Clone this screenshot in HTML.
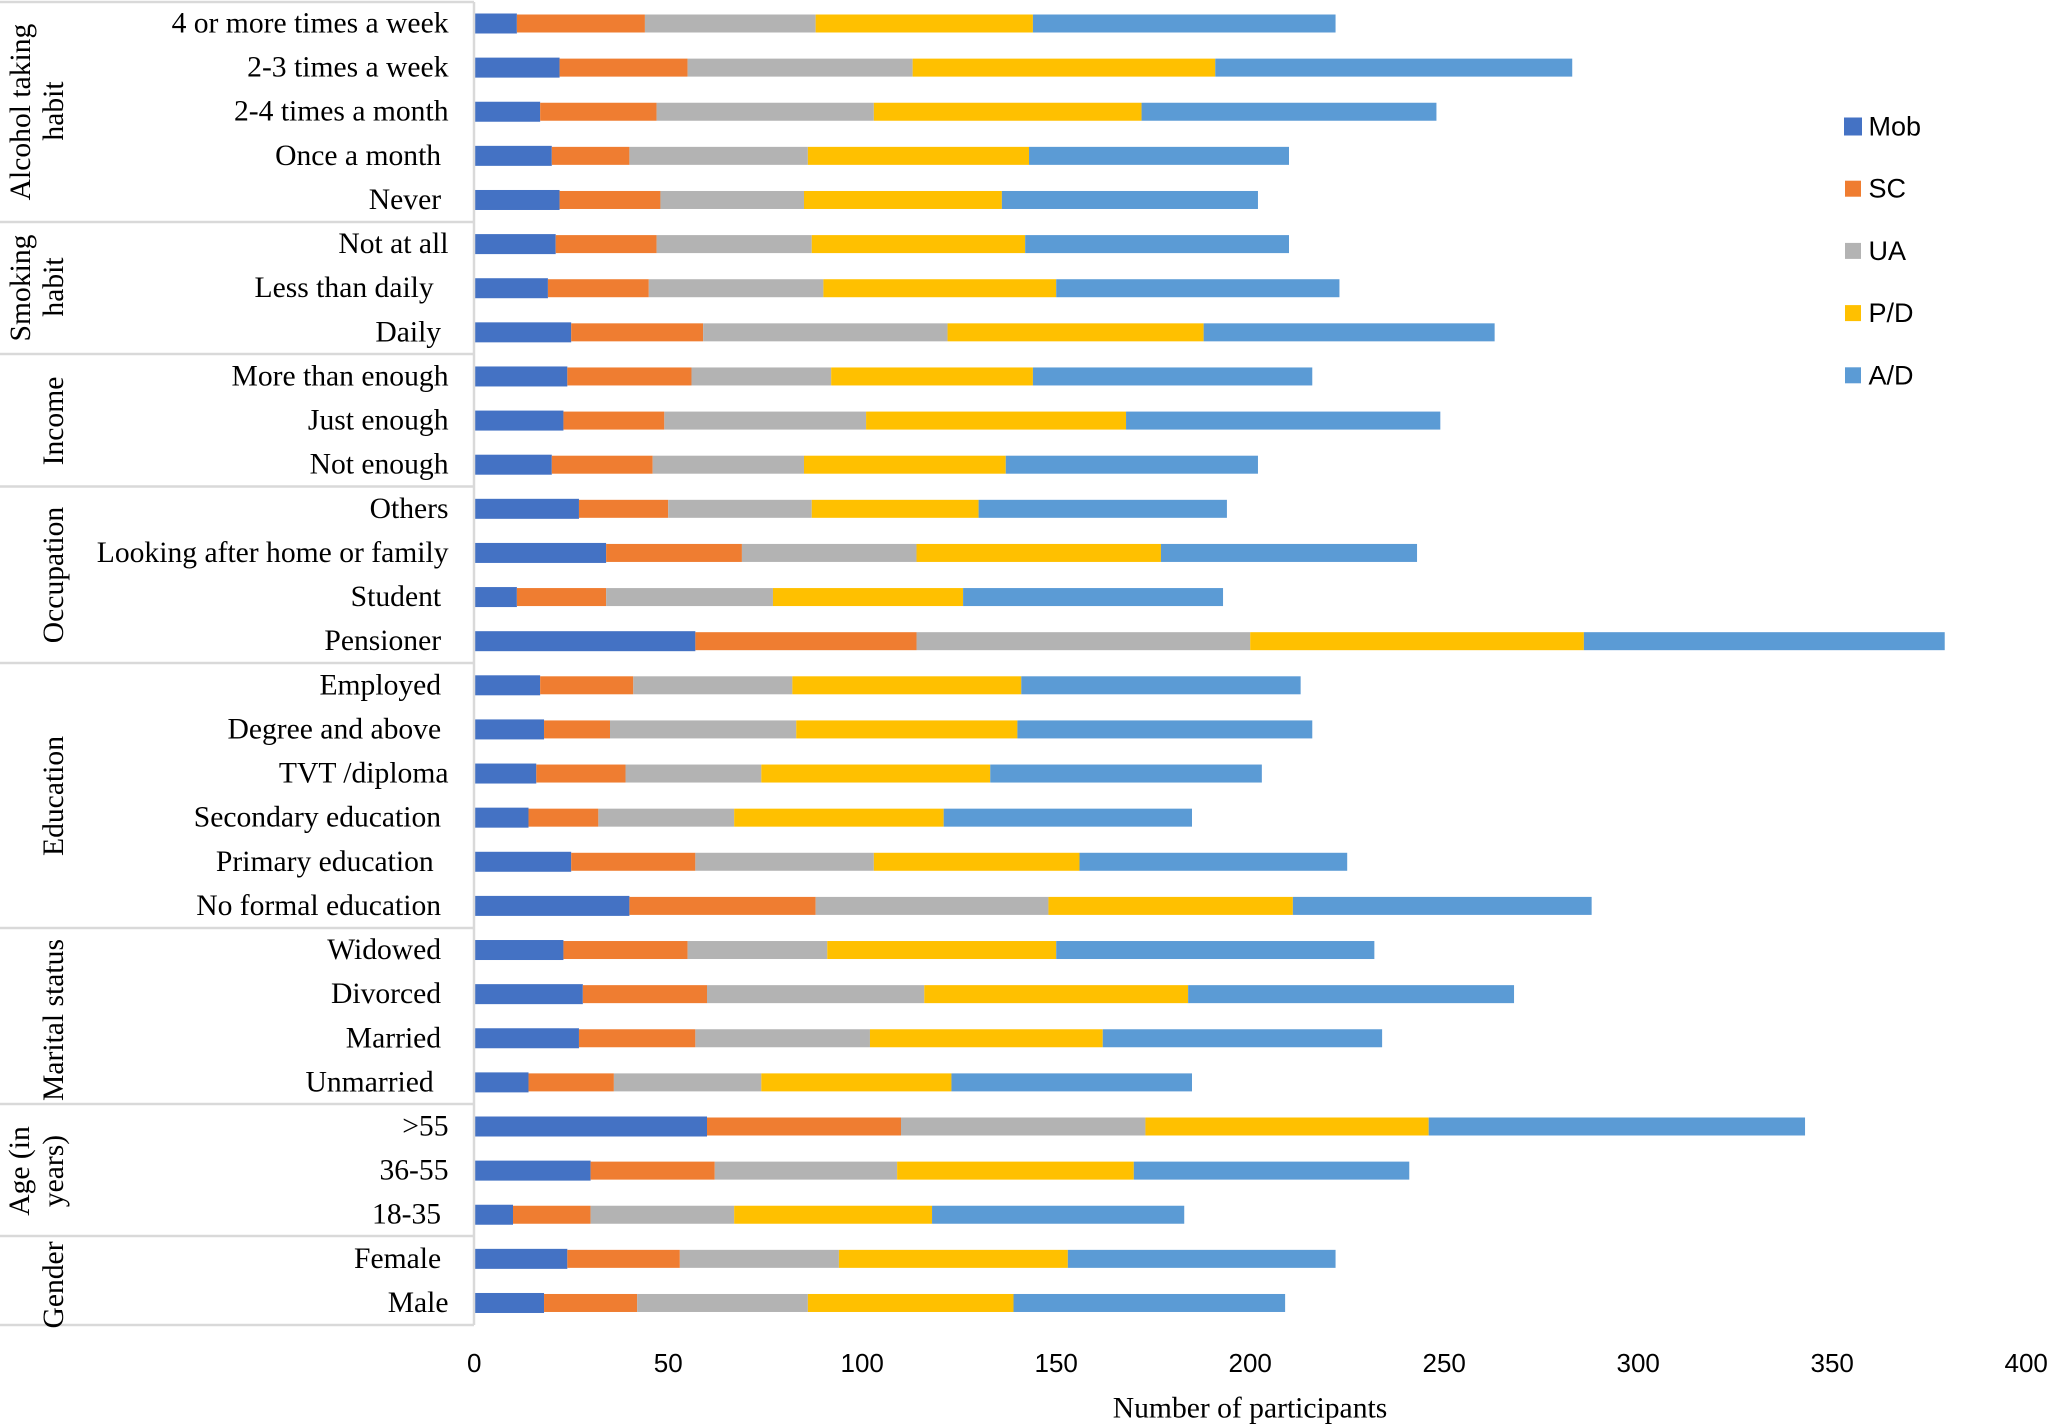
<!DOCTYPE html>
<html lang="en">
<head>
<meta charset="utf-8">
<title>Number of participants by sociodemographic category</title>
<style>
html,body{margin:0;padding:0;background:#fff;}
svg{display:block;}
.serif{font-family:"Liberation Serif",serif;fill:#000;}
.sans{font-family:"Liberation Sans",sans-serif;fill:#000;}
</style>
</head>
<body>
<svg id="chart" xmlns="http://www.w3.org/2000/svg" width="2048" height="1424" viewBox="0 0 2048 1424">
  <rect x="0" y="0" width="2048" height="1424" fill="#ffffff"/>
  <g id="bars"></g>
  <g id="grid" stroke="#d9d9d9" stroke-width="2.5">
    <line x1="474" y1="2" x2="474" y2="1325"/>
    <line x1="0" y1="2" x2="474" y2="2"/>
    <line x1="0" y1="222" x2="474" y2="222"/>
    <line x1="0" y1="354" x2="474" y2="354"/>
    <line x1="0" y1="486.5" x2="474" y2="486.5"/>
    <line x1="0" y1="663" x2="474" y2="663"/>
    <line x1="0" y1="928" x2="474" y2="928"/>
    <line x1="0" y1="1104" x2="474" y2="1104"/>
    <line x1="0" y1="1236" x2="474" y2="1236"/>
    <line x1="0" y1="1325" x2="474" y2="1325"/>
  </g>
  <g id="category-labels"></g>
  <g id="group-labels" class="serif" font-size="29.6" text-anchor="middle">
    <text class="serif" transform="translate(30 112) rotate(-90)">Alcohol taking</text>
    <text class="serif" transform="translate(63 111) rotate(-90)">habit</text>
    <text class="serif" transform="translate(30 288) rotate(-90)">Smoking</text>
    <text class="serif" transform="translate(63 287) rotate(-90)">habit</text>
    <text class="serif" transform="translate(63 421) rotate(-90)">Income</text>
    <text class="serif" transform="translate(63 575) rotate(-90)">Occupation</text>
    <text class="serif" transform="translate(63 796) rotate(-90)">Education</text>
    <text class="serif" transform="translate(63 1020) rotate(-90)">Marital status</text>
    <text class="serif" transform="translate(29 1171) rotate(-90)">Age (in</text>
    <text class="serif" transform="translate(63 1171) rotate(-90)">years)</text>
    <text class="serif" transform="translate(63 1285) rotate(-90)">Gender</text>
  </g>
  <g id="x-ticks"></g>
  <text class="serif" x="1250" y="1417.5" font-size="29.6" text-anchor="middle">Number of participants</text>
  <g id="legend"></g>
</svg>
<script>
const categories = [
  "4 or more times a week", "2-3 times a week", "2-4 times a month", "Once a month\u00A0", "Never\u00A0",
  "Not at all", "Less than daily\u00A0\u00A0", "Daily\u00A0",
  "More than enough", "Just enough", "Not enough",
  "Others", "Looking after home or family", "Student\u00A0", "Pensioner\u00A0",
  "Employed\u00A0", "Degree and above\u00A0", "TVT /diploma", "Secondary education\u00A0", "Primary education\u00A0\u00A0", "No formal education\u00A0",
  "Widowed\u00A0", "Divorced\u00A0", "Married\u00A0", "Unmarried\u00A0\u00A0",
  ">55", "36-55", "18-35\u00A0",
  "Female\u00A0", "Male"
];
const seriesNames = ["Mob", "SC", "UA", "P/D", "A/D"];
const mob = [11,22,17,20,22, 21,19,25, 24,23,20, 27,34,11,57, 17,18,16,14,25,40, 23,28,27,14, 60,30,10, 24,18];
const sc  = [33,33,30,20,26, 26,26,34, 32,26,26, 23,35,23,57, 24,17,23,18,32,48, 32,32,30,22, 50,32,20, 29,24];
const ua  = [44,58,56,46,37, 40,45,63, 36,52,39, 37,45,43,86, 41,48,35,35,46,60, 36,56,45,38, 63,47,37, 41,44];
const pd  = [56,78,69,57,51, 55,60,66, 52,67,52, 43,63,49,86, 59,57,59,54,53,63, 59,68,60,49, 73,61,51, 59,53];
const ad  = [78,92,76,67,66, 68,73,75, 72,81,65, 64,66,67,93, 72,76,70,64,69,77, 82,84,72,62, 97,71,65, 69,70];
const xTicks = [0, 50, 100, 150, 200, 250, 300, 350, 400];

const seriesValues = [mob, sc, ua, pd, ad];
const seriesColors = ["#4472c4", "#ef7d31", "#b3b3b3", "#ffc000", "#5b9bd5"];
const SVG_NS = "http://www.w3.org/2000/svg";

function xScale(v) { return 474.2 + v * 3.88; }
function yScale(i) { return 23.5 + i * 44.12; }
function legendY(i) { return 126.5 + i * 62.2; }
function slug(s) { return s.toLowerCase().replace(/[^a-z0-9]+/g, "-").replace(/^-|-$/g, ""); }

const barsGroup = document.getElementById("bars");
categories.forEach(function (cat, i) {
  let cum = 0;
  seriesValues.forEach(function (vals, s) {
    const x0 = xScale(cum);
    cum += vals[i];
    const x1 = xScale(cum);
    const h = s === 0 ? 20 : 18;
    const r = document.createElementNS(SVG_NS, "rect");
    r.setAttribute("x", x0);
    r.setAttribute("y", yScale(i) - h / 2);
    r.setAttribute("width", x1 - x0);
    r.setAttribute("height", h);
    r.setAttribute("fill", seriesColors[s]);
    
    
    barsGroup.appendChild(r);
  });
});

const labelGroup = document.getElementById("category-labels");
categories.forEach(function (cat, i) {
  const t = document.createElementNS(SVG_NS, "text");
  t.setAttribute("x", 448.5);
  t.setAttribute("y", yScale(i) + 9);
  t.setAttribute("text-anchor", "end");
  t.setAttribute("font-size", "29.6");
  t.setAttribute("class", "serif");
  
  
  t.textContent = cat;
  labelGroup.appendChild(t);
});

const tickGroup = document.getElementById("x-ticks");
xTicks.forEach(function (v) {
  const t = document.createElementNS(SVG_NS, "text");
  t.setAttribute("x", xScale(v));
  t.setAttribute("y", 1372);
  t.setAttribute("text-anchor", "middle");
  t.setAttribute("font-size", "26");
  t.setAttribute("class", "sans");
  
  
  t.textContent = String(v);
  tickGroup.appendChild(t);
});

const legendGroup = document.getElementById("legend");
seriesNames.forEach(function (name, i) {
  const size = i === 0 ? 18 : 16;
  const r = document.createElementNS(SVG_NS, "rect");
  r.setAttribute("x", 1853 - size / 2);
  r.setAttribute("y", legendY(i) - size / 2);
  r.setAttribute("width", size);
  r.setAttribute("height", size);
  r.setAttribute("fill", seriesColors[i]);
  
  
  legendGroup.appendChild(r);
  const t = document.createElementNS(SVG_NS, "text");
  t.setAttribute("x", 1868.5);
  t.setAttribute("y", legendY(i) + 9);
  t.setAttribute("font-size", "27");
  t.setAttribute("class", "sans");
  
  
  t.textContent = name;
  legendGroup.appendChild(t);
});
</script>
</body>
</html>
